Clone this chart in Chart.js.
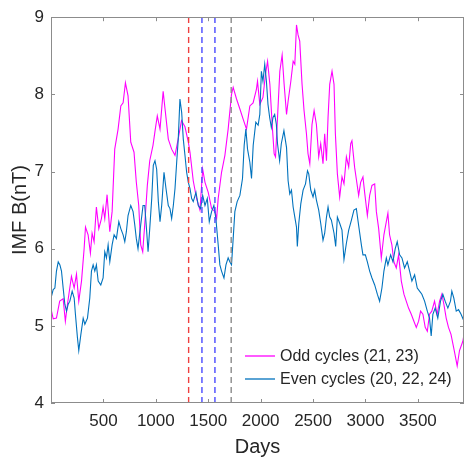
<!DOCTYPE html>
<html><head><meta charset="utf-8">
<script src="https://cdn.jsdelivr.net/npm/chart.js@4"></script>
<style>html,body{margin:0;padding:0;background:#fff}#wrap{width:466px;height:459px}</style>
</head><body><div id="wrap"><canvas id="c" width="466" height="459"></canvas></div>
<script>
// ---- data ----
const oddDays = [0,21,52,83,116,137,157,195,221,243,265,291,316,329,354,376,392,411,433,456,481,497,513,535,561,583,608,640,666,688,710,735,761,792,814,837,856,875,894,919,942,973,995,1014,1040,1070,1088,1119,1151,1183,1213,1245,1278,1310,1326,1357,1389,1421,1447,1469,1500,1532,1564,1580,1595,1627,1659,1690,1722,1738,1770,1802,1833,1865,1897,1928,1959,1970,1992,2022,2046,2066,2088,2110,2129,2142,2161,2183,2205,2224,2247,2262,2288,2310,2326,2342,2357,2373,2395,2414,2437,2452,2469,2490,2510,2532,2554,2573,2595,2611,2628,2643,2659,2681,2700,2713,2732,2754,2776,2795,2818,2840,2859,2871,2897,2913,2935,2954,2976,2992,3018,3040,3062,3088,3104,3126,3151,3176,3199,3214,3230,3252,3271,3294,3316,3342,3367,3389,3411,3437,3462,3485,3507,3526,3548,3570,3590,3611,3633,3659,3684,3707,3729,3748,3770,3792,3816,3847,3875,3897,3929,3940];
const oddValues = [5.22,5.09,5.10,5.32,5.35,5.06,5.28,5.64,5.49,5.67,5.32,5.58,6.00,6.28,6.18,5.94,6.20,6.09,6.54,6.26,6.39,6.54,6.39,6.70,6.22,6.48,7.29,7.55,7.85,7.89,8.15,7.98,7.38,7.25,6.86,6.56,6.05,5.96,6.31,6.82,7.14,7.34,7.55,7.72,7.55,8.04,7.81,7.42,7.29,7.21,7.42,7.66,7.58,7.38,7.25,6.88,6.65,6.50,7.03,6.86,6.73,6.52,6.48,6.39,6.65,6.99,7.21,7.55,8.00,8.09,7.94,7.81,7.68,7.55,7.85,7.89,8.06,8.17,7.87,7.96,8.26,8.43,8.13,7.61,7.23,7.19,7.70,8.30,8.51,8.13,7.74,7.91,8.17,8.43,8.39,8.90,8.77,8.69,8.13,7.79,7.49,7.23,7.10,7.61,7.79,7.61,7.19,7.36,7.10,7.49,7.14,7.70,8.13,8.30,8.13,7.49,6.97,6.67,6.93,6.84,7.19,7.06,7.36,7.40,7.05,6.90,6.69,6.86,6.93,6.73,6.43,6.69,6.82,6.84,6.48,6.26,5.88,6.18,6.35,6.46,6.18,6.05,5.83,5.75,5.92,5.58,5.41,5.32,5.23,5.15,5.06,4.98,5.06,5.19,5.15,4.98,4.93,5.15,5.19,5.32,5.15,5.32,5.41,5.28,5.10,4.98,4.89,4.68,4.48,4.68,4.80,4.89];
const evenDays = [0,21,37,52,69,85,100,116,132,148,164,180,202,221,233,252,265,285,307,323,348,370,386,402,418,433,450,475,497,513,529,545,561,583,602,624,647,666,688,704,719,735,761,783,799,814,830,856,878,894,913,926,942,961,976,992,1008,1024,1040,1056,1078,1097,1119,1135,1151,1167,1183,1199,1214,1230,1247,1262,1278,1294,1310,1326,1342,1357,1383,1405,1427,1447,1469,1491,1510,1532,1554,1573,1595,1611,1627,1650,1669,1690,1706,1722,1738,1754,1776,1802,1827,1843,1859,1875,1897,1913,1929,1954,1976,1992,2007,2022,2039,2055,2070,2086,2102,2118,2134,2150,2161,2181,2197,2222,2247,2262,2278,2294,2310,2326,2342,2350,2364,2383,2405,2428,2447,2459,2478,2500,2516,2532,2554,2573,2595,2611,2628,2643,2659,2675,2700,2716,2732,2754,2776,2795,2818,2840,2866,2890,2913,2935,2961,2976,2999,3018,3040,3062,3088,3113,3135,3157,3176,3199,3214,3240,3262,3284,3303,3326,3348,3373,3399,3421,3443,3469,3494,3516,3538,3564,3590,3611,3627,3643,3665,3690,3716,3738,3760,3786,3811,3824,3843,3866,3888,3912,3940];
const evenValues = [5.36,5.47,5.49,5.71,5.83,5.79,5.71,5.49,5.28,5.19,5.28,5.32,5.45,5.36,5.15,4.85,4.68,4.89,5.10,5.02,5.10,5.36,5.71,5.79,5.71,5.79,5.58,5.53,5.62,5.96,5.88,6.05,5.83,6.05,6.18,6.13,6.35,6.26,6.18,6.09,6.22,6.43,6.56,6.48,6.31,6.13,6.00,6.31,6.56,6.56,6.22,5.96,6.26,6.65,7.08,7.14,7.03,6.61,6.35,6.56,6.99,6.78,6.56,6.52,6.39,6.56,6.78,7.12,7.42,7.94,7.76,7.42,7.21,6.99,6.86,6.78,6.65,6.61,6.73,6.56,6.52,6.69,6.56,6.65,6.35,6.48,6.56,6.39,6.05,5.79,5.71,5.62,5.79,5.88,5.83,5.79,6.13,6.48,6.61,6.69,6.91,7.34,7.55,7.29,7.12,6.91,7.34,7.64,7.60,7.74,8.30,8.17,8.39,8.17,7.87,7.70,7.57,7.70,7.74,7.61,7.36,7.14,7.36,7.53,7.31,6.88,6.71,6.76,6.54,6.41,6.28,6.03,6.33,6.58,6.76,6.84,7.01,6.97,6.76,6.67,6.76,6.63,6.50,6.33,6.11,6.20,6.41,6.54,6.41,6.37,6.20,6.03,6.41,6.33,6.24,5.86,6.07,6.24,6.37,6.50,6.52,6.30,6.05,5.92,5.92,5.83,5.71,5.62,5.53,5.41,5.32,5.49,5.71,5.88,5.79,5.92,5.83,6.00,6.09,5.92,5.88,5.75,5.83,5.71,5.58,5.66,5.49,5.45,5.41,5.32,5.19,5.10,4.87,5.15,5.23,5.10,5.32,5.41,5.32,5.23,5.32,5.45,5.36,5.19,5.21,5.15,5.06];
const markerDays = [1313, 1440, 1564, 1719];
const seriesLabels = ['Odd cycles (21, 23)', 'Even cycles (20, 22, 24)'];
const xTicks = [500, 1000, 1500, 2000, 2500, 3000, 3500];
const yTicks = [4, 5, 6, 7, 8, 9];
const xRange = [0, 3940];
const yRange = [4, 9];

// ---- styles ----
const MAGENTA = '#ff00ff', BLUE = '#0072bd';
const markerStyle = ['#f04040', '#4848ff', '#4848ff', '#8a8a8a'];
const FONT = 'Liberation Sans, Arial, Helvetica, sans-serif';
const TXT = '#262626';

const datasets = [];
markerDays.forEach((d, i) => {
  datasets.push({
    data: [{x: d, y: yRange[0]}, {x: d, y: yRange[1]}],
    borderColor: markerStyle[i], borderWidth: 1.4, borderDash: [6, 4],
    pointRadius: 0, order: 0, isMarker: true
  });
});
datasets.push({
  label: seriesLabels[0],
  data: oddDays.map((d, i) => ({x: d, y: oddValues[i]})),
  borderColor: MAGENTA, borderWidth: 1.1, pointRadius: 0, order: 2, tension: 0
});
datasets.push({
  label: seriesLabels[1],
  data: evenDays.map((d, i) => ({x: d, y: evenValues[i]})),
  borderColor: BLUE, borderWidth: 1.1, pointRadius: 0, order: 1, tension: 0
});

const boxPlugin = {
  id: 'box',
  afterDraw(chart) {
    const {ctx, chartArea: a, scales: {x, y}} = chart;
    ctx.save();
    ctx.strokeStyle = '#8c8c8c';
    ctx.lineWidth = 1;
    ctx.strokeRect(Math.round(a.left) + 0.5, Math.round(a.top) + 0.5, Math.round(a.right - a.left) - 1, Math.round(a.bottom - a.top) - 1);
    const tl = 4;
    ctx.beginPath();
    xTicks.forEach(v => {
      const px = Math.round(x.getPixelForValue(v)) + 0.5;
      ctx.moveTo(px, a.bottom); ctx.lineTo(px, a.bottom - tl);
      ctx.moveTo(px, a.top); ctx.lineTo(px, a.top + tl);
    });
    yTicks.forEach(v => {
      const py = Math.round(y.getPixelForValue(v)) + 0.5;
      ctx.moveTo(a.left, py); ctx.lineTo(a.left + tl, py);
      ctx.moveTo(a.right, py); ctx.lineTo(a.right - tl, py);
    });
    ctx.stroke();
    // legend (no box)
    const series = chart.data.datasets.filter(d => !d.isMarker);
    ctx.font = '16px ' + FONT;
    ctx.textBaseline = 'middle';
    ctx.textAlign = 'left';
    const lx0 = a.left + 194, lx1 = a.left + 224, tx = a.left + 229;
    series.forEach((d, i) => {
      const ly = a.bottom - 47 + i * 23;
      ctx.strokeStyle = d.borderColor; ctx.lineWidth = 1.3;
      ctx.beginPath(); ctx.moveTo(lx0, ly); ctx.lineTo(lx1, ly); ctx.stroke();
      ctx.fillStyle = TXT;
      ctx.fillText(d.label, tx, ly + 1);
    });
    ctx.restore();
  }
};

new Chart(document.getElementById('c'), {
  type: 'line',
  data: {datasets},
  options: {
    responsive: false, animation: false, devicePixelRatio: 1,
    layout: {padding: {left: 0, right: 2, top: 14, bottom: 0}},
    plugins: {legend: {display: false}, tooltip: {enabled: false}},
    elements: {line: {borderCapStyle: 'butt'}},
    scales: {
      x: {
        type: 'linear', min: xRange[0], max: xRange[1],
        grid: {display: false, drawTicks: false}, border: {display: false},
        afterBuildTicks: s => { s.ticks = xTicks.map(v => ({value: v})); },
        afterFit: s => { s.height = 56; },
        ticks: {font: {family: FONT, size: 17}, color: TXT, padding: 8, maxRotation: 0, autoSkip: false,
                callback: v => String(v)},
        title: {display: true, text: 'Days', font: {family: FONT, size: 20}, color: TXT, padding: {top: 0, bottom: 0}}
      },
      y: {
        type: 'linear', min: yRange[0], max: yRange[1],
        grid: {display: false, drawTicks: false}, border: {display: false},
        afterBuildTicks: s => { s.ticks = yTicks.map(v => ({value: v})); },
        afterFit: s => { s.width = 51; },
        ticks: {font: {family: FONT, size: 17}, color: TXT, padding: 7, autoSkip: false,
                callback: v => String(v)},
        title: {display: true, text: 'IMF B(nT)', font: {family: FONT, size: 20}, color: TXT, padding: {top: 8, bottom: 0}}
      }
    }
  },
  plugins: [boxPlugin]
});
</script>
</body></html>
